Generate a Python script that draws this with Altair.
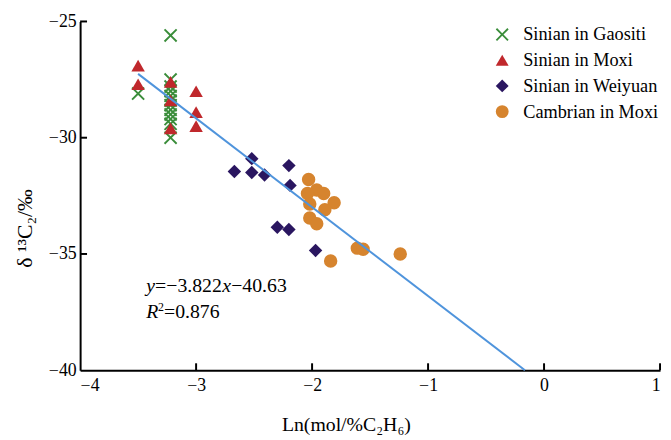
import altair as alt
import pandas as pd

# ---- data ----
series_names = ["Sinian in Gaositi", "Sinian in Moxi", "Sinian in Weiyuan", "Cambrian in Moxi"]
series_colors = ["#3a8d3a", "#c0282c", "#2a1660", "#d6842e"]

gaositi_x = [-3.50, -3.22, -3.22, -3.22, -3.22, -3.22, -3.22, -3.22, -3.22, -3.22, -3.22, -3.22, -3.22]
gaositi_y = [-28.1, -25.6, -27.5, -27.8, -28.0, -28.2, -28.4, -28.6, -28.8, -29.0, -29.2, -29.4, -30.0]

moxi_x = [-3.50, -3.50, -3.22, -3.22, -3.22, -3.00, -3.00, -3.00]
moxi_y = [-26.9, -27.7, -27.6, -28.4, -29.6, -28.0, -28.9, -29.5]

weiyuan_x = [-2.67, -2.52, -2.52, -2.41, -2.20, -2.19, -2.30, -2.20, -1.97]
weiyuan_y = [-31.45, -30.9, -31.5, -31.6, -31.2, -32.05, -33.85, -33.95, -34.85]

cambrian_x = [-2.03, -1.96, -2.04, -1.90, -2.02, -1.81, -1.89, -2.02, -1.96, -1.61, -1.56, -1.24, -1.84]
cambrian_y = [-31.8, -32.25, -32.4, -32.4, -32.85, -32.8, -33.1, -33.45, -33.7, -34.75, -34.8, -35.0, -35.3]

# regression y = slope*x + intercept
slope = -3.822
intercept = -40.63
fit_x_start = -3.5

x_ticks = [-4, -3, -2, -1, 0, 1]
y_ticks = [-40, -35, -30, -25]

eq_text = ["y", "=\u22123.822", "x", "\u221240.63"]
r2_text = ["R", "2", "=0.876"]

# ---- tables ----
rows = []
for name, xs_, ys_ in zip(series_names,
                          [gaositi_x, moxi_x, weiyuan_x, cambrian_x],
                          [gaositi_y, moxi_y, weiyuan_y, cambrian_y]):
    for xv, yv in zip(xs_, ys_):
        rows.append({"x": xv, "y": yv, "series": name})
df = pd.DataFrame(rows)

fit_x_end = (y_ticks[0] - intercept) / slope
fit_df = pd.DataFrame({"x": [fit_x_start, fit_x_end],
                       "y": [slope * fit_x_start + intercept, slope * fit_x_end + intercept]})

W, H = 587, 353
FONT = "Liberation Serif"

xs = alt.Scale(domain=[-4, 1], nice=False, zero=False)
ys = alt.Scale(domain=[-40, -25], nice=False, zero=False)

x_shape = "M-1,-0.8L-0.8,-1L0,-0.2L0.8,-1L1,-0.8L0.2,0L1,0.8L0.8,1L0,0.2L-0.8,1L-1,0.8L-0.2,0Z"

points = alt.Chart(df).mark_point(filled=True, opacity=1, size=185, stroke=None).encode(
    x=alt.X("x:Q", scale=xs,
            axis=alt.Axis(values=x_ticks, format="d", title="Ln(mol/%C\u2082H\u2086)", grid=False,
                          tickSize=0, labelPadding=7, titlePadding=20, titleX=269,
                          titleFontSize=20)),
    y=alt.Y("y:Q", scale=ys,
            axis=alt.Axis(values=y_ticks, format="d", title="\u03b4 \u00b9\u00b3C\u2082/\u2030", grid=False,
                          tickSize=0, labelPadding=4, titlePadding=12, titleY=209,
                          titleFontSize=22)),
    color=alt.Color("series:N", scale=alt.Scale(domain=series_names, range=series_colors),
                    legend=alt.Legend(title=None, orient="none", legendX=418, legendY=4)),
    shape=alt.Shape("series:N", scale=alt.Scale(domain=series_names,
                                                range=[x_shape, "triangle-up", "diamond", "circle"])),
    order=alt.Order("idx:Q"),
).transform_window(idx="row_number()")

line = alt.Chart(fit_df).mark_line(color="#4f94dc", strokeWidth=2).encode(
    x=alt.X("x:Q", scale=xs), y=alt.Y("y:Q", scale=ys))

xt = alt.Chart(pd.DataFrame({"v": x_ticks[1:]})).mark_rule(color="black", strokeWidth=2).encode(
    x=alt.X("v:Q", scale=xs), y=alt.value(H), y2=alt.value(H - 7))
yt = alt.Chart(pd.DataFrame({"v": y_ticks[1:]})).mark_rule(color="black", strokeWidth=2).encode(
    y=alt.Y("v:Q", scale=ys), x=alt.value(0), x2=alt.value(7))

ann_pos = pd.DataFrame({"x": [-3.43], "y": [-36.4]})
ann_pos2 = pd.DataFrame({"x": [-3.43], "y": [-37.5]})

def txt(d, s, dx, italic=False, size=20, dy=0):
    return alt.Chart(d).mark_text(text=s, align="left", baseline="middle", dx=dx, dy=dy,
                                  font=FONT, fontSize=size,
                                  fontStyle="italic" if italic else "normal",
                                  color="black").encode(
        x=alt.X("x:Q", scale=xs), y=alt.Y("y:Q", scale=ys))

ann = [
    txt(ann_pos, eq_text[0], 0, True),
    txt(ann_pos, eq_text[1], 9, False),
    txt(ann_pos, eq_text[2], 77, True),
    txt(ann_pos, eq_text[3], 86, False),
    txt(ann_pos2, r2_text[0], 0, True),
    txt(ann_pos2, r2_text[1], 12, False, size=12, dy=-5),
    txt(ann_pos2, r2_text[2], 18, False),
]

chart = alt.layer(points, line, xt, yt, *ann).properties(
    width=W, height=H,
    autosize=alt.AutoSizeParams(type="none"),
    padding={"left": 73, "top": 11, "right": 3, "bottom": 67},
).configure_view(stroke=None).configure_axis(
    domainColor="black", domainWidth=2, labelFont=FONT, labelFontSize=18, labelColor="black",
    titleFont=FONT, titleFontWeight="normal", titleColor="black",
).configure_legend(
    labelFont=FONT, labelFontSize=18.5, labelColor="black", symbolSize=170, rowPadding=7,
    labelOffset=12, padding=0, symbolStrokeWidth=0,
)

chart.save("out.html", embed_options={"renderer": "svg", "actions": False})
